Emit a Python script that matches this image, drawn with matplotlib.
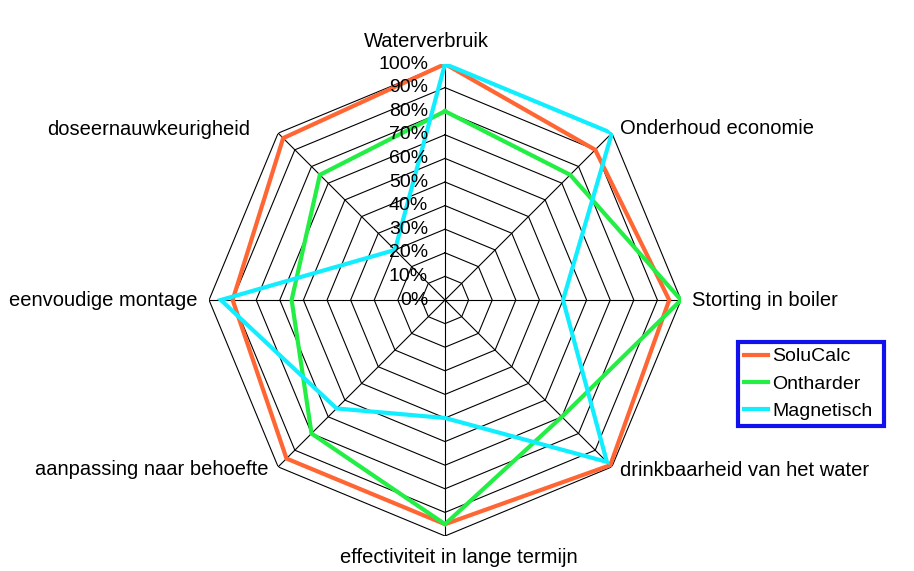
#!/bin/env python
#
# Radar chart comparing water softener options
#
import matplotlib
matplotlib.use("Agg")

import numpy as np
import matplotlib.pyplot as plt

# Categories, clockwise from the top
categories = ["Waterverbruik", "Onderhoud economie", "Storting in boiler",
              "drinkbaarheid van het water", "effectiviteit in lange termijn",
              "aanpassing naar behoefte", "eenvoudige montage", "doseernauwkeurigheid"]

# Scores in percent
solucalc = [100, 90, 95, 99, 95, 95, 90, 97]
ontharder = [80, 75, 100, 70, 95, 80, 65, 75]
magnetisch = [100, 100, 50, 97, 50, 65, 95, 30]

series_names = ["SoluCalc", "Ontharder", "Magnetisch"]
series_values = [solucalc, ontharder, magnetisch]
series_colors = ["#ff6633", "#22ee44", "#11eeff"]

rings = [0, 10, 20, 30, 40, 50, 60, 70, 80, 90, 100]
ring_labels = [f"{r}%" for r in rings]

plt.rcParams["font.family"] = ["Liberation Sans", "DejaVu Sans"]

fig = plt.figure(figsize=(9.14, 5.71), dpi=100)
ax = fig.add_axes([0.2287, 0.0613, 0.5164, 0.8266], projection="polar")
ax.set_theta_zero_location("N")
ax.set_theta_direction(-1)
ax.set_ylim(0, 100)
ax.grid(False)
ax.spines["polar"].set_visible(False)
ax.set_xticks([])
ax.set_yticks([])

n = len(categories)
angles = np.linspace(0, 2 * np.pi, n, endpoint=False)
closed = np.append(angles, angles[0])

# Octagonal grid and spokes
for r in rings[1:]:
    ax.plot(closed, [r] * (n + 1), color="black", lw=0.8, zorder=1)
for a in angles:
    ax.plot([a, a], [0, 100], color="black", lw=0.8, zorder=1)

# Data series
for name, vals, col in zip(series_names, series_values, series_colors):
    ax.plot(closed, vals + vals[:1], color=col, lw=3, label=name, zorder=3,
            solid_joinstyle="miter")

# Percentage labels along the top spoke
for r, lab in zip(rings, ring_labels):
    ax.annotate(lab, (0, r), xytext=(-17, 0), textcoords="offset pixels",
                ha="right", va="center", fontsize=14, zorder=4)

# Category labels round the outside (pixel offsets from the 100% vertex)
offsets = [(-19, 23, "center", "center"), (8, 5, "left", "center"),
           (11, 0, "left", "center"), (8, -4, "left", "center"),
           (14, -22, "center", "center"), (-10, -3, "right", "center"),
           (-12, 0, "right", "center"), (-28, 4, "right", "center")]
for a, lab, (dx, dy, ha, va) in zip(angles, categories, offsets):
    ax.annotate(lab, (a, 100), xytext=(dx, dy), textcoords="offset pixels",
                ha=ha, va=va, fontsize=14.5, annotation_clip=False)

leg = ax.legend(loc="upper left",
                bbox_to_anchor=(738 / 914, 1 - 427 / 571, 146 / 914, 85 / 571),
                bbox_transform=fig.transFigure, borderaxespad=0, mode="expand",
                fontsize=14, fancybox=False, framealpha=1,
                handlelength=1.25, handletextpad=0.22, labelspacing=0.5,
                borderpad=0.3)
leg.get_frame().set_edgecolor("#1111ee")
leg.get_frame().set_linewidth(3)

fig.savefig("out.png", dpi=100)
